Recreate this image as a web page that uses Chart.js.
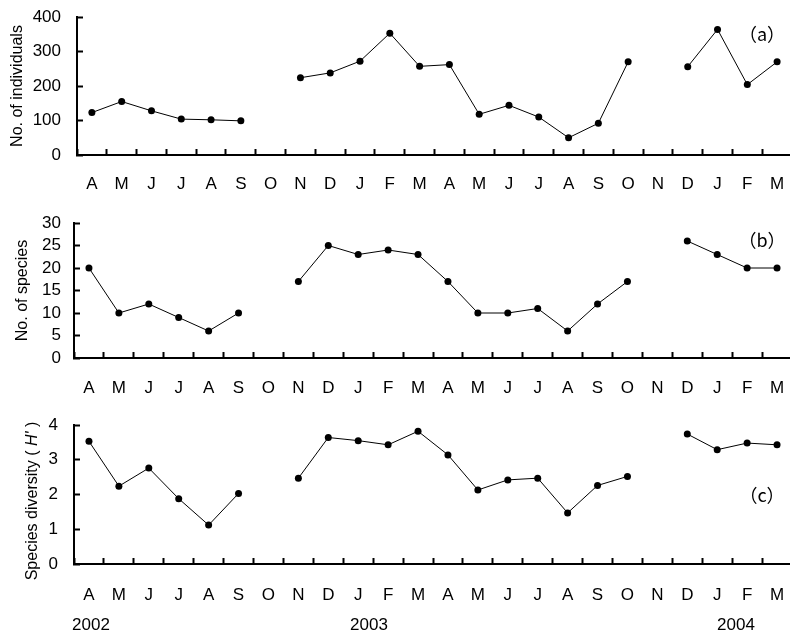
<!DOCTYPE html>
<html>
<head>
<meta charset="utf-8">
<script src="https://cdn.jsdelivr.net/npm/chart.js@4"></script>
<style>
  html, body { margin: 0; padding: 0; background: #fff; overflow: hidden; }
  #wrap { position: relative; width: 790px; height: 633px; overflow: hidden; background: #fff; }
  #wrap canvas { position: absolute; left: 0; top: 0; }
</style>
</head>
<body>
<div id="wrap">
  <canvas id="ca" width="800" height="633"></canvas>
  <canvas id="cb" width="800" height="633"></canvas>
  <canvas id="cc" width="800" height="633"></canvas>
</div>
<script>
const months = ['A','M','J','J','A','S','O','N','D','J','F','M','A','M','J','J','A','S','O','N','D','J','F','M'];
const years = ['2002', '2003', '2004'];
const individuals = [123,155,128,104,102,99,null,224,238,272,353,257,262,118,144,110,50,92,270,null,256,364,204,270];
const species = [20,10,12,9,6,10,null,17,25,23,24,23,17,10,10,11,6,12,17,null,26,23,20,20];
const diversity = [3.53,2.24,2.76,1.88,1.12,2.03,null,2.47,3.64,3.55,3.43,3.82,3.14,2.13,2.42,2.47,1.47,2.26,2.52,null,3.74,3.29,3.48,3.43];
const panelLabels = ['（a）', '（b）', '（c）'];

const FONT = "'Liberation Sans'";
const CJK = "'Noto Sans CJK JP'";
Chart.defaults.font.family = FONT;

const textPlugin = {
  id: 'extraText',
  afterDraw(chart, args, opts) {
    const ctx = chart.ctx;
    ctx.save();
    ctx.fillStyle = '#000';
    (opts.items || []).forEach(it => {
      ctx.font = it.font;
      ctx.textAlign = 'center';
      ctx.textBaseline = 'middle';
      ctx.fillText(it.text, it.x, it.y);
    });
    if (opts.rotTitle) {
      const r = opts.rotTitle;
      ctx.translate(r.x, r.y);
      ctx.rotate(-Math.PI / 2);
      ctx.textAlign = 'left';
      ctx.textBaseline = 'middle';
      let total = 0;
      r.parts.forEach(p => { ctx.font = p.font; total += ctx.measureText(p.text).width; });
      let x = -total / 2;
      r.parts.forEach(p => { ctx.font = p.font; ctx.fillText(p.text, x, 0); x += ctx.measureText(p.text).width; });
    }
    ctx.restore();
  }
};

function makeChart(id, data, cfg) {
  return new Chart(document.getElementById(id), {
    type: 'line',
    data: {
      labels: months,
      datasets: [{
        data: data,
        borderColor: '#000',
        borderWidth: 1,
        backgroundColor: '#000',
        pointBackgroundColor: '#000',
        pointBorderColor: '#000',
        pointRadius: 3.5,
        pointBorderWidth: 0,
        spanGaps: false,
        tension: 0
      }]
    },
    options: {
      responsive: false,
      animation: false,
      devicePixelRatio: 1,
      events: [],
      layout: { padding: { left: 0, right: 8, top: cfg.top, bottom: 633 - cfg.bottom - 40 } },
      plugins: {
        legend: { display: false },
        tooltip: { enabled: false },
        extraText: { items: cfg.items, rotTitle: cfg.rotTitle }
      },
      scales: {
        x: {
          type: 'category',
          offset: true,
          afterFit(s) { s.height = 40; s.paddingLeft = 0; s.paddingRight = 0; s.paddingTop = 0; s.paddingBottom = 0; },
          grid: { display: true, offset: true, drawOnChartArea: false, drawTicks: true, tickLength: -6, tickWidth: 2, tickColor: '#000' },
          border: { display: true, color: '#000', width: 2 },
          ticks: { color: '#000', font: { family: FONT, size: 17 }, padding: cfg.xpad, maxRotation: 0, autoSkip: false }
        },
        y: {
          min: cfg.min, max: cfg.max,
          afterFit(s) { s.width = cfg.left; s.paddingTop = 0; s.paddingBottom = 0; s.paddingLeft = 0; s.paddingRight = 0; },
          grid: { display: true, drawOnChartArea: false, drawTicks: true, tickLength: -6, tickWidth: 2, tickColor: '#000' },
          border: { display: true, color: '#000', width: 2 },
          ticks: { color: '#000', stepSize: cfg.step, autoSkip: false, font: { family: FONT, size: 17 }, padding: cfg.ypad },
          title: cfg.title ? { display: true, text: cfg.title, color: '#000', font: { family: FONT, size: 16 }, padding: { top: cfg.tpad, bottom: 0 } } : { display: false }
        }
      }
    },
    plugins: [textPlugin]
  });
}

makeChart('ca', individuals, {
  top: 17, bottom: 155, left: 77, min: 0, max: 400, step: 100, xpad: 25, ypad: 22,
  title: 'No. of individuals', tpad: 8,
  items: [{ text: panelLabels[0], x: 762, y: 34, font: "18px " + CJK }]
});
makeChart('cb', species, {
  top: 223, bottom: 358, left: 74, min: 0, max: 30, step: 5, xpad: 26, ypad: 19,
  title: 'No. of species', tpad: 13,
  items: [{ text: panelLabels[1], x: 762, y: 240, font: "18px " + CJK }]
});
makeChart('cc', diversity, {
  top: 425, bottom: 564, left: 74, min: 0, max: 4, step: 1, xpad: 27, ypad: 22,
  title: null,
  items: [
    { text: panelLabels[2], x: 762, y: 495, font: "18px " + CJK },
    { text: years[0], x: 91, y: 625, font: "17px " + FONT },
    { text: years[1], x: 369, y: 625, font: "17px " + FONT },
    { text: years[2], x: 736, y: 625, font: "17px " + FONT }
  ],
  rotTitle: {
    x: 33, y: 501,
    parts: [
      { text: 'Species diversity ( ', font: "16px " + FONT },
      { text: "H'", font: "italic 16px " + FONT },
      { text: ' )', font: "16px " + FONT }
    ]
  }
});
</script>
</body>
</html>
